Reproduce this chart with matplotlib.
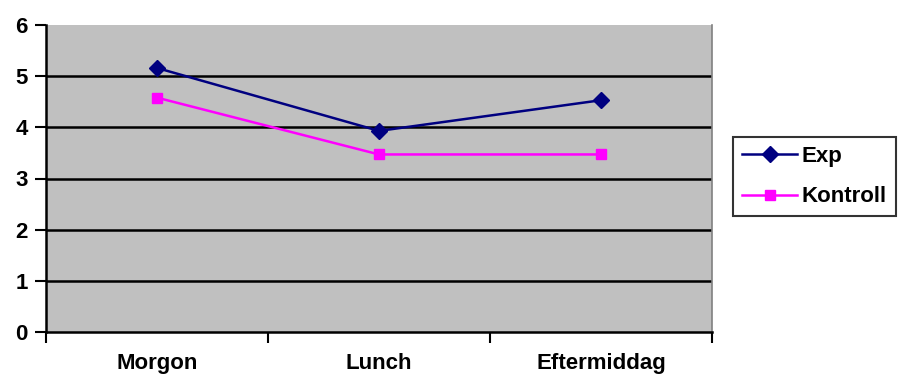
import matplotlib
matplotlib.use("Agg")
import matplotlib.pyplot as plt

categories = ["Morgon", "Lunch", "Eftermiddag"]
exp_values = [5.16, 3.93, 4.53]
kontroll_values = [4.58, 3.47, 3.47]
y_ticks = [0, 1, 2, 3, 4, 5, 6]

plt.rcParams['font.family'] = ['Liberation Sans', 'DejaVu Sans']
plt.rcParams['font.weight'] = 'bold'

fig = plt.figure(figsize=(9.02, 3.83), dpi=100)
ax = fig.add_axes([46 / 902, 1 - 332 / 383, (712 - 46) / 902, (332 - 25) / 383])
ax.set_facecolor('#C0C0C0')

x = list(range(len(categories)))
ax.plot(x, exp_values, color='#000080', lw=1.8, marker='D', ms=8,
        label='Exp', zorder=4)
ax.plot(x, kontroll_values, color='#FF00FF', lw=1.8, marker='s', ms=7.5,
        label='Kontroll', zorder=3)

ax.set_xlim(-0.5, len(categories) - 0.5)
ax.set_ylim(0, 6)
ax.set_yticks(y_ticks)
ax.set_yticklabels([str(v) for v in y_ticks], fontsize=16, fontweight='bold')
for v in y_ticks[1:-1]:
    ax.axhline(v, color='black', lw=1.8, zorder=2)

ax.set_xticks(x)
ax.set_xticklabels(categories, fontsize=16, fontweight='bold')
ax.tick_params(axis='x', length=0, pad=15)
ax.set_xticks([-0.5, 0.5, 1.5, 2.5], minor=True)
ax.tick_params(axis='x', which='minor', length=8, width=1.5, direction='out')
ax.tick_params(axis='y', length=8, width=1.5, direction='out', pad=5)

for side in ['left', 'bottom']:
    ax.spines[side].set_color('black')
    ax.spines[side].set_linewidth(1.8)
ax.spines['top'].set_visible(False)
ax.spines['right'].set_color('#808080')
ax.spines['right'].set_linewidth(1.2)

leg = fig.legend(loc='upper left', bbox_to_anchor=(733 / 902, 1 - 137 / 383),
                 fontsize=16, frameon=True, fancybox=False, edgecolor='black',
                 handlelength=2.5, handletextpad=0.2, borderpad=0.4,
                 labelspacing=0.88, borderaxespad=0)
leg.get_frame().set_linewidth(1.5)
for t in leg.get_texts():
    t.set_fontweight('bold')

fig.savefig('out.png', dpi=100, facecolor='white')
